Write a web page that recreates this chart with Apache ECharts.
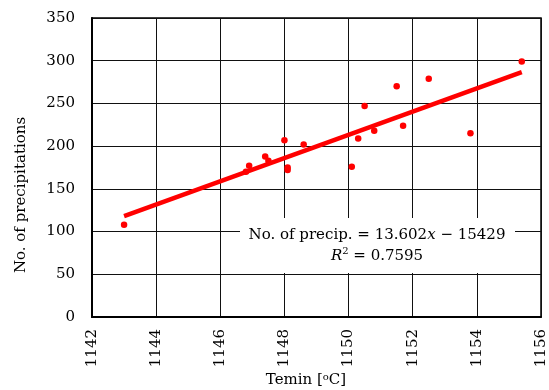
<!DOCTYPE html>
<html>
<head>
<meta charset="utf-8">
<script src="https://cdn.jsdelivr.net/npm/echarts@6/dist/echarts.min.js"></script>
<style>
  html, body { margin: 0; padding: 0; background: #fff; }
  #chart { width: 549px; height: 390px; }
</style>
</head>
<body>
<div id="chart"></div>
<script>
// Minimum temperature readings [°C] and number of precipitation events
const temin = [1143.0, 1146.8, 1146.9, 1147.4, 1147.5, 1148.0, 1148.1, 1148.1, 1148.6,
               1150.1, 1150.3, 1150.5, 1150.8, 1151.5, 1151.7, 1152.5, 1153.8, 1155.4];
const precipitations = [108, 170, 177, 188, 183, 207, 175, 172, 202,
                        176, 209, 247, 218, 270, 224, 279, 215, 299];

// Linear trend: No. of precip. = slope * x + intercept
const slope = 13.602;
const intercept = -15429;
const rSquared = 0.7595;

const xTicks = { min: 1142, max: 1156, step: 2 };
const yTicks = { min: 0, max: 350, step: 50 };

const FONT = '"DejaVu Serif", "Liberation Serif", serif';
const TEXT = '#000';

const points = temin.map((x, i) => [x, precipitations[i]]);
const xLo = Math.min(...temin), xHi = Math.max(...temin);
const trend = [[xLo, slope * xLo + intercept], [xHi, slope * xHi + intercept]];

const chart = echarts.init(document.getElementById('chart'), null, { renderer: 'canvas' });

chart.setOption({
  animation: false,
  backgroundColor: '#fff',
  grid: { left: 92, right: 8, top: 18, bottom: 73, show: true, borderColor: '#000', borderWidth: 1.5 },
  xAxis: {
    type: 'value', min: xTicks.min, max: xTicks.max, interval: xTicks.step,
    axisLine: { show: true, lineStyle: { color: '#000', width: 2 } },
    axisTick: { show: false },
    splitLine: { show: true, lineStyle: { color: '#111', width: 1 } },
    axisLabel: { rotate: 90, margin: 12, color: TEXT, fontFamily: FONT, fontSize: 15,
                 formatter: v => String(v) }
  },
  yAxis: {
    type: 'value', min: yTicks.min, max: yTicks.max, interval: yTicks.step,
    axisLine: { show: true, lineStyle: { color: '#000', width: 2 } },
    axisTick: { show: false },
    splitLine: { show: true, lineStyle: { color: '#111', width: 1 } },
    axisLabel: { margin: 17, color: TEXT, fontFamily: FONT, fontSize: 15 }
  },
  series: [
    {
      type: 'line', data: trend, symbol: 'none', silent: true,
      lineStyle: { color: '#ff0000', width: 4.5 }, z: 3
    },
    {
      type: 'scatter', data: points, symbol: 'circle', symbolSize: 6.5,
      itemStyle: { color: '#ff0000', opacity: 1 }, z: 4
    }
  ],
  graphic: [
    {
      type: 'rect', z: 100, silent: true,
      shape: { x: 240, y: 218, width: 275, height: 55 },
      style: { fill: '#ffffff', stroke: null }
    },
    {
      type: 'text', x: 377, y: 225, z: 101,
      style: {
        text: 'No. of precip. = ' + slope.toFixed(3) + '{i|x} − ' + Math.abs(intercept) + '\n{i|R}{sup|2} = ' + rSquared.toFixed(4),
        align: 'center', verticalAlign: 'top',
        fill: TEXT, font: '15px ' + FONT, lineHeight: 21,
        rich: {
          i: { fontStyle: 'italic', fontFamily: FONT, fontSize: 15, fill: TEXT },
          sup: { fontFamily: FONT, fontSize: 10, verticalAlign: 'top', fill: TEXT }
        }
      }
    },
    {
      type: 'text', x: 21, y: 195, rotation: Math.PI / 2, z: 100,
      style: {
        text: 'No. of precipitations', align: 'center', verticalAlign: 'middle',
        fill: TEXT, font: '15px ' + FONT
      }
    },
    {
      type: 'text', x: 306, y: 380, z: 100,
      style: {
        text: 'Temin [{sup|o}C]', align: 'center', verticalAlign: 'middle',
        fill: TEXT, font: '15px ' + FONT,
        rich: { sup: { fontFamily: FONT, fontSize: 10, verticalAlign: 'top', fill: TEXT } }
      }
    }
  ]
});
</script>
</body>
</html>
